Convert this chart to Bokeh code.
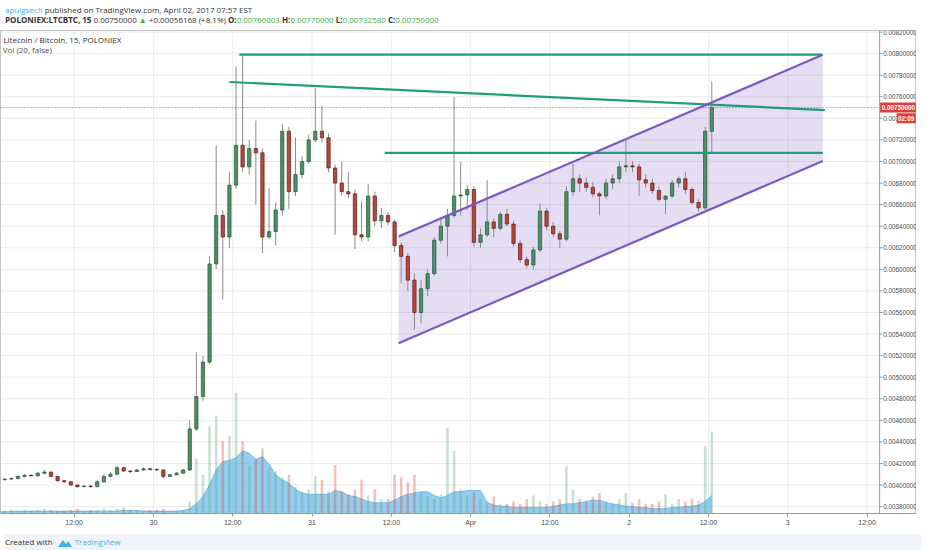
import numpy as np
from bokeh.models import Range1d, FixedTicker, Label, Div, ColumnDataSource
from bokeh.layouts import column
from bokeh.plotting import figure
from bokeh.embed import file_html
from bokeh.resources import INLINE
from bokeh.core.properties import value

# one candle per hour, x in hours since 29 Mar 00:00; prices in 1e-5 BTC
FIRST_OPEN = 405
closes = [405, 405.5, 406, 408, 409, 408.5, 411, 412, 408, 404,
          403, 400, 398.5, 399, 398.5, 403, 408, 410, 416, 413,
          412.5, 414, 415, 414.5, 414, 408, 409.5, 411, 414, 452,
          482, 514, 605, 650, 630, 678, 715, 695, 712, 708,
          630, 635, 655, 728, 672, 688, 700, 720, 728, 722,
          694, 680, 672, 670, 632, 630, 668, 645, 650, 644,
          622, 612, 590, 560, 582, 596, 627, 640, 650, 668,
          669, 674, 625, 632, 644, 638, 651, 642, 624, 609,
          604, 618, 654, 640, 633, 628, 672, 684, 680, 676,
          670, 668, 680, 684, 695, 696, 695, 683, 680, 673,
          665, 668, 680, 684, 674, 662, 657, 728, 750]
highs = [406, 406, 407, 409, 410, 410, 412, 414, 412.5, 408.5,
         405, 403.5, 400.5, 400, 400, 405, 410, 412, 418, 417,
         414, 415, 416.5, 416, 415.5, 414.5, 410.5, 412, 415, 460,
         523, 520, 612, 715, 655, 690, 788, 800, 720, 738,
         712, 675, 662, 735, 732, 722, 705, 725, 768, 752,
         726, 697, 700, 690, 674, 663, 679, 672, 657, 653,
         646, 625, 615, 596, 590, 600, 630, 647, 656, 760,
         700, 678, 677, 638, 683, 647, 653, 656, 645, 627,
         612, 621, 661, 657, 644, 636, 677, 698, 688, 685,
         681, 672, 684, 688, 700, 720, 700, 698, 688, 684,
         677, 668, 683, 686, 690, 676, 665, 732, 774]
lows = [404, 404, 405, 405.5, 407, 408, 408, 410, 407, 403,
        402, 399, 397.5, 398, 397.5, 398, 402, 407, 409, 412,
        411, 412, 413.5, 413.5, 413, 406, 407.5, 409, 410.5, 413,
        450, 478, 512, 600, 572, 620, 675, 690, 688, 660,
        615, 628, 622, 650, 656, 668, 684, 698, 718, 718,
        690, 632, 668, 666, 619, 626, 626, 640, 638, 641,
        616, 587, 580, 544, 550, 575, 594, 624, 612, 648,
        650, 655, 621, 620, 630, 630, 636, 640, 621, 606,
        601, 600, 616, 636, 630, 620, 626, 668, 672, 672,
        667, 650, 665, 674, 680, 690, 690, 668, 676, 670,
        663, 651, 666, 676, 670, 660, 654, 655, 707]
volumes = [3, 2, 3, 2, 3, 2, 3, 4, 3, 2,
           2, 3, 4, 2, 3, 3, 4, 3, 4, 5,
           3, 3, 2, 3, 3, 4, 2, 2, 3,
           10, 46, 32, 72, 81, 60, 64, 100, 60, 40,
           45, 54, 38, 35, 30, 32, 22, 18, 20, 31,
           28, 18, 40, 18, 16, 20, 28, 15, 20, 12,
           12, 32, 30, 26, 32, 18, 14, 12, 16, 71,
           52, 20, 15, 18, 12, 10, 14, 8, 8, 10,
           8, 12, 15, 10, 8, 10, 12, 39, 20, 12,
           10, 14, 17, 10, 8, 12, 17, 9, 12, 8,
           8, 10, 16, 8, 12, 10, 12, 10, 56, 68]
vol_ma = [1.5, 1.5, 2, 2, 2, 2, 2, 2, 2, 2,
          2, 2, 2, 2, 2, 2, 2, 2, 2, 2.5,
          2.5, 2.5, 2, 2, 2, 2, 2, 2, 2.5,
          4, 8, 14, 24, 36, 43, 44, 46, 52, 50,
          45, 47, 41, 32, 28, 25, 20, 17, 16, 16,
          16, 16, 19, 18, 15, 14, 12, 10, 9, 9,
          9, 11, 14, 16, 17, 18, 18, 15, 13, 15,
          18, 18, 19, 19, 19, 9, 7, 6, 6, 5,
          5, 5, 5, 5, 5, 6, 7, 8, 8, 9,
          10, 11, 11, 9, 8, 7, 6, 6, 5, 5,
          4, 4, 4, 5, 5, 6, 6, 7, 10, 15]

# drawings: (hours, price)
top_line_x, top_line_y = [37.0, 125.2], [0.00799, 0.00799]
desc_line_x, desc_line_y = [35.5, 125.6], [0.007737, 0.007477]
mid_line_x, mid_line_y = [59.0, 125.3], [0.00708, 0.00708]
chan_x = [61.1, 125.3]
chan_upper = [0.006304, 0.007989]
chan_lower = [0.005314, 0.007005]
last_price = 0.0075
countdown = "02:09"

time_ticks = [12, 24, 36, 48, 60, 72, 84, 96, 108, 120, 132]
time_labels = ["12:00", "30", "12:00", "31", "12:00", "Apr", "12:00", "2", "12:00", "3", "12:00"]
price_ticks = [0.0038, 0.0040, 0.0042, 0.0044, 0.0046, 0.0048, 0.0050, 0.0052, 0.0054,
               0.0056, 0.0058, 0.0060, 0.0062, 0.0064, 0.0066, 0.0068, 0.0070, 0.0072,
               0.0074, 0.0076, 0.0078, 0.0080, 0.0082]

PX = 6.608                 # pixels per hour
X0, X_AXIS = 0.86, 133.9   # left edge of the box, price-scale line
X1 = X0 + 916 / PX
Y0, Y1 = 0.003736, 0.0082146
UP, DOWN = "#4f8f68", "#b9473a"
TEAL, PURPLE = "#1f9e7e", "#7e57c2"
AX = "#9a9a9a"

o = np.array([FIRST_OPEN] + closes[:-1]) / 1e5
c = np.array(closes) / 1e5
up = c >= o
src = ColumnDataSource(dict(
    x=np.arange(len(closes)) + 0.5,
    top=np.maximum(o, c), bottom=np.minimum(o, c),
    high=np.array(highs) / 1e5, low=np.array(lows) / 1e5,
    fill=[UP if u else DOWN for u in up],
    volfill=["#6ba583" if u else "#d75442" for u in up],
    edge=["#225437" if u else "#5b1a13" for u in up],
    vol=volumes, ma=vol_ma,
))

p = figure(width=916, height=498, output_backend="svg", toolbar_location=None, title=None,
           x_range=Range1d(X0, X1), y_range=Range1d(Y0, Y1),
           y_axis_location=None, min_border_left=0, min_border_right=0,
           min_border_top=0, min_border_bottom=0, outline_line_color="#c4c4c4",
           border_fill_color="white")
p.extra_y_ranges = {"vol": Range1d(0, 400)}
p.grid.visible = False

ax = p.xaxis[0]
ax.axis_line_color = AX
ax.major_tick_line_color = AX
ax.major_tick_out = 3
ax.major_tick_in = 0
ax.minor_tick_out = 0
ax.minor_tick_in = 0
ax.major_label_standoff = 2
ax.major_label_text_font = "Liberation Sans"
ax.major_label_text_font_size = "7px"
ax.major_label_text_color = "#4a4a4a"
ax.ticker = FixedTicker(ticks=time_ticks)
ax.major_label_overrides = dict(zip(time_ticks, time_labels))

# grid, stopping at the price scale
p.segment(x0=time_ticks, y0=Y0, x1=time_ticks, y1=Y1, line_color="#ebebeb", line_width=1)
p.segment(x0=X0, y0=price_ticks, x1=X_AXIS, y1=price_ticks, line_color="#ebebeb", line_width=1)

# channel fill under everything
p.patch(chan_x + chan_x[::-1], chan_upper + chan_lower[::-1],
        fill_color=PURPLE, fill_alpha=0.2, line_color=None)

# volume + its moving average
p.varea(x="x", y1=0, y2="ma", source=src, y_range_name="vol", fill_color="#56b4e9", fill_alpha=0.65)
p.line(x="x", y="ma", source=src, y_range_name="vol", line_color="#4aa3dc", line_alpha=0.6)
p.vbar(x="x", top="vol", bottom=0, width=0.4, source=src, y_range_name="vol",
       fill_color="volfill", line_color=None, fill_alpha=0.35)

# candles
p.segment(x0="x", y0="low", x1="x", y1="high", source=src, line_color="#8a8a8c", line_width=1)
p.vbar(x="x", top="top", bottom="bottom", width=0.5, source=src,
       fill_color="fill", line_color="edge", line_width=0.7)

# drawings
for xs, ys, col in ((top_line_x, top_line_y, TEAL), (desc_line_x, desc_line_y, TEAL),
                    (mid_line_x, mid_line_y, TEAL), (chan_x, chan_upper, PURPLE),
                    (chan_x, chan_lower, PURPLE)):
    p.line(xs, ys, line_color=col, line_width=2.2)

# last price line
p.segment(x0=X0, y0=last_price, x1=X_AXIS, y1=last_price, line_color="#e0403a",
          line_dash="1 2", line_width=1)

# price scale drawn on the right of the box
p.segment(x0=X_AXIS, y0=Y0, x1=X_AXIS, y1=Y1, line_color=AX, line_width=1)
p.segment(x0=X_AXIS, y0=price_ticks, x1=X_AXIS + 3 / PX, y1=price_ticks, line_color=AX)
p.text(x=X_AXIS + 3.5 / PX, y=price_ticks, text=[f"{v:.8f}" for v in price_ticks],
       text_font=value("Liberation Sans"), text_font_size="6.4px", text_color="#4a4a4a",
       text_baseline="middle", text_align="left")

p.rect(x=X_AXIS + 18.5 / PX, y=last_price, width=36 / PX, height=10, height_units="screen",
       fill_color="#e0403a", line_color=None)
p.text(x=X_AXIS + 2 / PX, y=last_price, text=[f"{last_price:.8f}"],
       text_font=value("Liberation Sans"), text_font_size="6.3px", text_font_style="bold",
       text_color="white", text_baseline="middle", text_align="left")
p.rect(x=X_AXIS + 26.5 / PX, y=0.0074, width=19 / PX, height=10, height_units="screen",
       fill_color="#e0403a", line_color=None)
p.text(x=X_AXIS + 26.5 / PX, y=0.0074, text=[countdown],
       text_font=value("Liberation Sans"), text_font_size="6.3px", text_font_style="bold",
       text_color="white", text_baseline="middle", text_align="center")

p.add_layout(Label(x=1.3, y=0.008128, text="Litecoin / Bitcoin, 15, POLONIEX",
                   text_font="Open Sans", text_font_size="8px", text_color="#333333",
                   text_baseline="middle"))
p.add_layout(Label(x=1.2, y=0.008036, text="Vol (20, false)",
                   text_font="Open Sans", text_font_size="8px", text_color="#555555",
                   text_baseline="middle"))

green = "#3fae49"
header = Div(width=916, height=20, text=(
    '<div style="font-family:\'Open Sans\';font-size:8px;line-height:10px;color:#333;white-space:nowrap">'
    '<span style="color:#3bb3e4">apuigsech</span> published on TradingView.com, April 02, 2017 07:57 EST<br>'
    '<b>POLONIEX:LTCBTC, 15</b> 0.00750000 '
    f'<span style="color:{green}">&#9650;</span> +0.00056168 (+8.1%) '
    f'<b>O:</b><span style="color:{green}">0.00760003</span> '
    f'<b>H:</b><span style="color:{green}">0.00770000</span> '
    f'<b>L:</b><span style="color:{green}">0.00732580</span> '
    f'<b>C:</b><span style="color:{green}">0.00750000</span></div>'))

footer = Div(width=916, height=16, text=(
    '<div style="width:916px;height:16px;background:#f0f3f7;font-family:\'Open Sans\';'
    'font-size:8px;line-height:16px;color:#333;white-space:nowrap">'
    'Created with '
    '<svg width="14" height="9" viewBox="0 0 14 9" style="vertical-align:middle;margin:0 3px">'
    '<path d="M0 9 L5 2 L8 6 L10 3 L14 9 Z" fill="#3bb3e4"/></svg>'
    '<span style="color:#3bb3e4">TradingView</span></div>'))

layout = column(header, p, footer)
open("out.html", "w").write(file_html(layout, INLINE))
